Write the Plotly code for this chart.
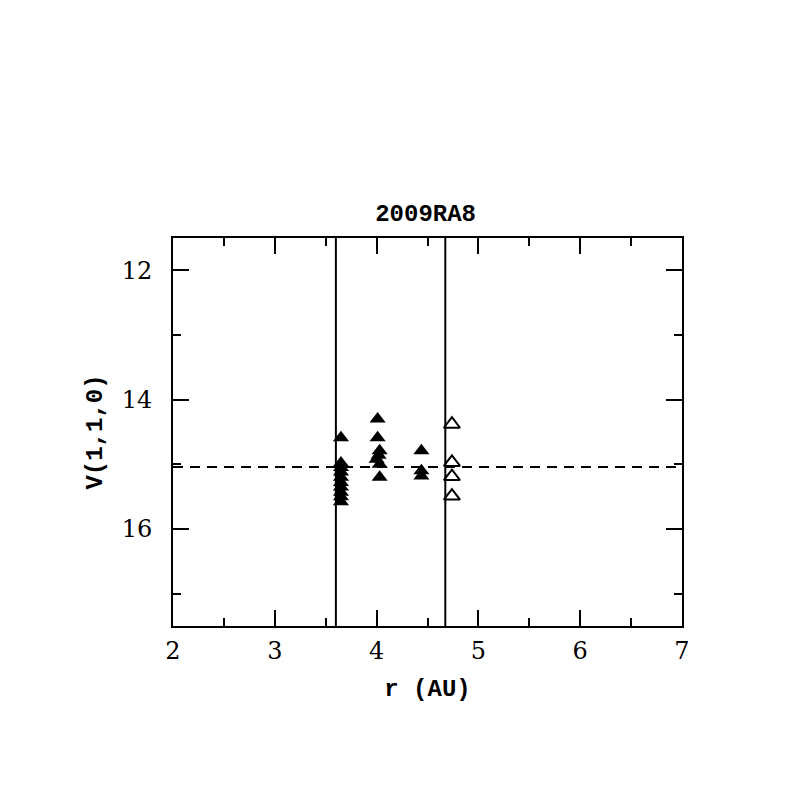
import plotly.graph_objects as go

# Filled triangles (observations)
r_filled = [3.65, 3.65, 3.65, 3.65, 3.65, 3.65, 3.65, 3.65, 3.65, 3.65,
            4.01, 4.01, 4.03, 4.02, 4.00, 4.03, 4.03,
            4.44, 4.44, 4.44]
v_filled = [14.59, 14.98, 15.05, 15.12, 15.2, 15.28, 15.35, 15.43, 15.5, 15.58,
            14.30, 14.59, 14.79, 14.86, 14.92, 15.0, 15.2,
            14.79, 15.1, 15.18]

# Open triangles
r_open = [4.74, 4.74, 4.74, 4.74]
v_open = [14.38, 14.97, 15.19, 15.49]

# Reference lines
vlines = [3.60, 4.675]
hline = 15.04

x_ticks = [2, 3, 4, 5, 6, 7]
y_ticks = [12, 14, 16]

fig = go.Figure()
fig.add_trace(go.Scatter(x=r_filled, y=v_filled, mode="markers",
                         marker=dict(symbol="triangle-up", size=14, color="black"),
                         showlegend=False))
fig.add_trace(go.Scatter(x=r_open, y=v_open, mode="markers",
                         marker=dict(symbol="triangle-up-open", size=14, color="black",
                                     line=dict(width=2, color="black")),
                         showlegend=False))

for xv in vlines:
    fig.add_shape(type="line", x0=xv, x1=xv, y0=0, y1=1, xref="x", yref="paper",
                  line=dict(color="black", width=2))
fig.add_shape(type="line", x0=0, x1=1, y0=hline, y1=hline, xref="paper", yref="y",
              line=dict(color="black", width=2, dash="10px,7px"))

font_family = "Liberation Mono, DejaVu Serif, serif"

axis_common = dict(showgrid=False, zeroline=False, showline=True, linecolor="black",
                   linewidth=2, mirror="allticks", ticks="inside", ticklen=16,
                   tickwidth=2, tickcolor="black",
                   tickfont=dict(family="DejaVu Serif, serif", size=24, color="black"))

fig.update_xaxes(range=[2, 7], tickvals=x_ticks, ticktext=[str(t) for t in x_ticks],
                 ticklabelstandoff=2,
                 minor=dict(dtick=0.5, ticklen=8, tickwidth=2, tickcolor="black", ticks="inside"),
                 title=dict(text="<b>r (AU)</b>", font=dict(family=font_family, size=24, color="black"),
                            standoff=15),
                 **axis_common)
fig.update_yaxes(range=[17.5, 11.5], tickvals=y_ticks, ticktext=[str(t) for t in y_ticks],
                 ticklabelstandoff=14,
                 minor=dict(dtick=1, ticklen=8, tickwidth=2, tickcolor="black", ticks="inside"),
                 title=dict(text="<b>V(1,1,0)</b>", font=dict(family=font_family, size=24, color="black"),
                            standoff=12),
                 **axis_common)

fig.update_layout(width=797, height=797, plot_bgcolor="white", paper_bgcolor="white",
                  margin=dict(l=165, r=123, t=230, b=179),
                  title=dict(text="<b>2009RA8</b>", x=0.524, xanchor="center", y=0.743, yanchor="middle",
                             font=dict(family=font_family, size=24, color="black")))

fig.write_html("out.html")
